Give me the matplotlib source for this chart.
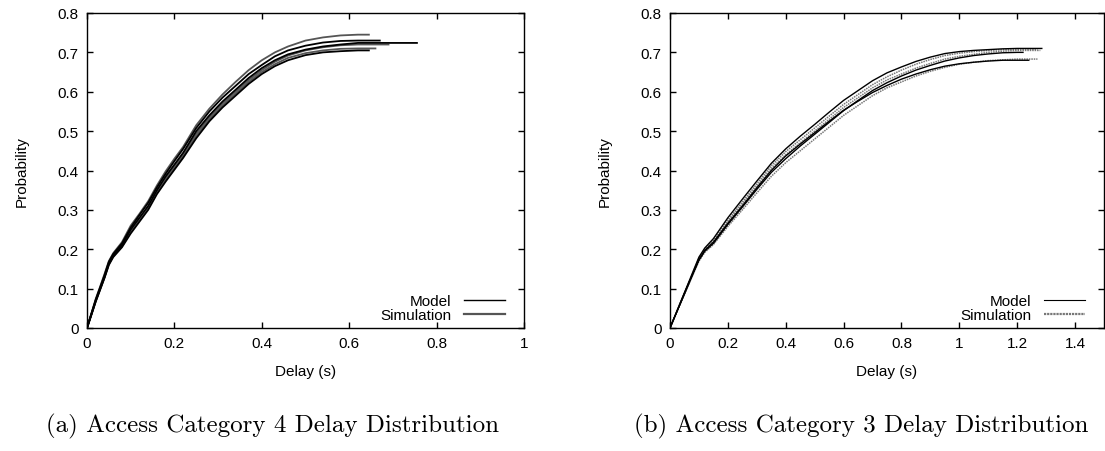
import matplotlib
matplotlib.use("Agg")
import matplotlib.pyplot as plt
from matplotlib.ticker import FormatStrFormatter, MultipleLocator

plt.rcParams['font.family'] = ['Liberation Sans', 'DejaVu Sans']

# AC4 delay CDFs: shared delay grid (s), one probability list per run
ac4_delay = [0, 0.01, 0.02, 0.03, 0.04, 0.05, 0.06, 0.08, 0.10, 0.12, 0.14, 0.16,
             0.18, 0.20, 0.22, 0.25, 0.28, 0.31, 0.34, 0.37, 0.40, 0.43, 0.46,
             0.50, 0.54, 0.58, 0.62]
ac4_model = [
    [0, 0.035, 0.07, 0.10, 0.13, 0.165, 0.185, 0.21, 0.25, 0.28, 0.31, 0.35, 0.385,
     0.415, 0.445, 0.50, 0.54, 0.575, 0.605, 0.635, 0.66, 0.68, 0.695, 0.707, 0.715,
     0.72, 0.724],
    [0, 0.033, 0.067, 0.097, 0.127, 0.16, 0.18, 0.205, 0.24, 0.27, 0.30, 0.34, 0.372,
     0.402, 0.432, 0.482, 0.525, 0.56, 0.59, 0.62, 0.645, 0.665, 0.68, 0.693, 0.70,
     0.703, 0.705],
    [0, 0.036, 0.072, 0.103, 0.134, 0.168, 0.188, 0.215, 0.255, 0.287, 0.318, 0.357,
     0.392, 0.424, 0.455, 0.508, 0.55, 0.585, 0.615, 0.645, 0.668, 0.69, 0.705, 0.717,
     0.725, 0.729, 0.73],
]
ac4_model_end = [0.755, 0.645, 0.67]
ac4_sim = [
    [0, 0.037, 0.074, 0.105, 0.137, 0.17, 0.19, 0.218, 0.26, 0.29, 0.322, 0.362, 0.398,
     0.43, 0.46, 0.515, 0.557, 0.593, 0.625, 0.655, 0.68, 0.70, 0.715, 0.73, 0.738,
     0.743, 0.745],
    [0, 0.034, 0.069, 0.099, 0.129, 0.163, 0.183, 0.208, 0.246, 0.277, 0.307, 0.346,
     0.38, 0.41, 0.44, 0.494, 0.535, 0.57, 0.60, 0.63, 0.655, 0.676, 0.692, 0.705,
     0.713, 0.718, 0.72],
    [0, 0.034, 0.068, 0.098, 0.128, 0.162, 0.182, 0.207, 0.244, 0.274, 0.304, 0.343,
     0.376, 0.406, 0.436, 0.488, 0.53, 0.565, 0.595, 0.625, 0.65, 0.67, 0.686, 0.698,
     0.705, 0.709, 0.71],
]
ac4_sim_end = [0.645, 0.69, 0.66]

# AC3 delay CDFs
ac3_delay = [0, 0.02, 0.04, 0.06, 0.08, 0.10, 0.12, 0.15, 0.20, 0.25, 0.30, 0.35, 0.40,
             0.45, 0.50, 0.55, 0.60, 0.65, 0.70, 0.75, 0.80, 0.85, 0.90, 0.95, 1.00,
             1.05, 1.10, 1.15, 1.20]
ac3_model = [
    [0, 0.036, 0.072, 0.108, 0.144, 0.18, 0.203, 0.227, 0.28, 0.327, 0.373, 0.418,
     0.455, 0.487, 0.517, 0.548, 0.578, 0.603, 0.628, 0.648, 0.663, 0.677, 0.688,
     0.697, 0.702, 0.705, 0.707, 0.709, 0.71],
    [0, 0.035, 0.07, 0.104, 0.138, 0.172, 0.195, 0.215, 0.263, 0.307, 0.352, 0.395,
     0.43, 0.462, 0.492, 0.522, 0.552, 0.578, 0.603, 0.623, 0.64, 0.655, 0.667, 0.678,
     0.686, 0.692, 0.696, 0.699, 0.70],
    [0, 0.035, 0.07, 0.105, 0.14, 0.174, 0.197, 0.218, 0.266, 0.31, 0.356, 0.40, 0.437,
     0.467, 0.496, 0.525, 0.553, 0.576, 0.598, 0.616, 0.632, 0.645, 0.656, 0.665,
     0.671, 0.675, 0.678, 0.68, 0.68],
]
ac3_model_end = [1.285, 1.22, 1.24]
ac3_sim = [
    [0, 0.035, 0.07, 0.105, 0.14, 0.175, 0.198, 0.22, 0.27, 0.315, 0.36, 0.405, 0.44,
     0.47, 0.50, 0.53, 0.56, 0.585, 0.61, 0.63, 0.645, 0.66, 0.672, 0.683, 0.69,
     0.695, 0.70, 0.703, 0.705],
    [0, 0.034, 0.069, 0.103, 0.137, 0.17, 0.192, 0.212, 0.258, 0.30, 0.343, 0.385,
     0.42, 0.45, 0.48, 0.51, 0.54, 0.565, 0.59, 0.61, 0.625, 0.64, 0.652, 0.662, 0.67,
     0.675, 0.679, 0.681, 0.683],
    [0, 0.036, 0.071, 0.106, 0.142, 0.177, 0.2, 0.223, 0.274, 0.32, 0.366, 0.412,
     0.448, 0.478, 0.508, 0.538, 0.568, 0.593, 0.618, 0.638, 0.655, 0.67, 0.682,
     0.692, 0.698, 0.702, 0.705, 0.707, 0.708],
]
ac3_sim_end = [1.28, 1.27, 1.27]

captions = ["(a) Access Category 4 Delay Distribution",
            "(b) Access Category 3 Delay Distribution"]

fig = plt.figure(figsize=(11.05, 4.52), dpi=100)
ax1 = fig.add_axes([87 / 1105, 123 / 452, 437 / 1105, 315 / 452])
ax2 = fig.add_axes([670 / 1105, 123 / 452, 434 / 1105, 315 / 452])


def draw_runs(ax, grid, runs, ends, **style):
    for vals, end in zip(runs, ends):
        xs = grid[:len(vals)] + [end]
        ys = vals + [vals[-1]]
        ax.plot(xs, ys, **style)


draw_runs(ax1, ac4_delay, ac4_sim, ac4_sim_end, color='#555555', lw=1.3)
draw_runs(ax1, ac4_delay, ac4_model, ac4_model_end, color='black', lw=1.3)
ax1.plot([], [], color='black', lw=1.0, label='Model')
ax1.plot([], [], color='#555555', lw=1.6, label='Simulation')

draw_runs(ax2, ac3_delay, ac3_sim, ac3_sim_end, color='#777777', lw=1.1,
          linestyle=(0, (1, 0.6)))
draw_runs(ax2, ac3_delay, ac3_model, ac3_model_end, color='black', lw=1.0)
ax2.plot([], [], color='black', lw=0.8, label='Model')
ax2.plot([], [], color='#777777', lw=1.6, linestyle=(0, (1, 0.4)), label='Simulation')

for ax, xmax in ((ax1, 1.0), (ax2, 1.5)):
    ax.set_xlim(0, xmax)
    ax.set_ylim(0, 0.8)
    ax.xaxis.set_major_locator(MultipleLocator(0.2))
    ax.yaxis.set_major_locator(MultipleLocator(0.1))
    ax.xaxis.set_major_formatter(FormatStrFormatter('%g'))
    ax.yaxis.set_major_formatter(FormatStrFormatter('%g'))
    ax.tick_params(direction='in', top=True, right=True, length=4, width=1,
                   labelsize=11, pad=6)
    for s in ax.spines.values():
        s.set_linewidth(1.0)
    ax.set_xlabel('Delay (s)', fontsize=11, labelpad=10)
    ax.set_ylabel('Probability', fontsize=11, labelpad=21)
    ax.legend(loc='lower right', frameon=False, markerfirst=False, fontsize=11,
              handlelength=2.7, handletextpad=0.8, labelspacing=0.0,
              borderaxespad=0.0, bbox_to_anchor=(0.97, 0.0))

ax2.set_xticks([0, 0.2, 0.4, 0.6, 0.8, 1.0, 1.2, 1.4])

fig.text(272 / 1105, 1 - 426 / 452, captions[0], family='cmr10', fontsize=18,
         ha='center', va='center')
fig.text(861 / 1105, 1 - 426 / 452, captions[1], family='cmr10', fontsize=18,
         ha='center', va='center')

fig.savefig('out.png', dpi=100)
